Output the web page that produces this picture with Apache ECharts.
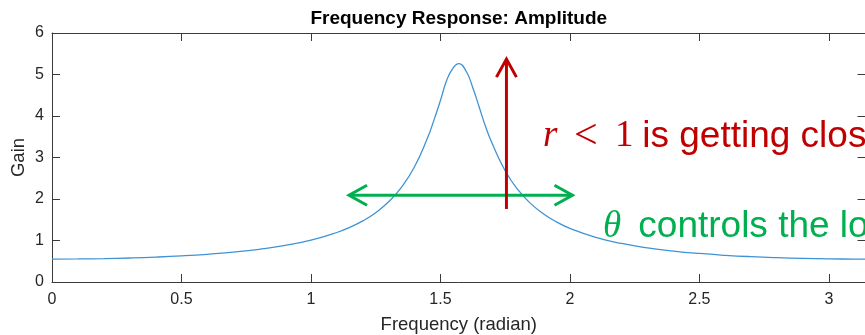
<!DOCTYPE html>
<html>
<head>
<meta charset="utf-8">
<script src="https://cdn.jsdelivr.net/npm/echarts@6/dist/echarts.min.js"></script>
<style>
  html, body { margin: 0; padding: 0; background: #ffffff; }
  #chart { width: 865px; height: 335px; }
</style>
</head>
<body>
<div id="chart"></div>
<script>
// Amplitude response samples (frequency in radians, gain)
const freq = [0, 0.1, 0.2, 0.3, 0.4, 0.5, 0.6, 0.7, 0.8, 0.9, 1.0, 1.1, 1.15, 1.2, 1.25, 1.3, 1.35, 1.4,
  1.45, 1.475, 1.5, 1.525, 1.55, 1.5708, 1.6, 1.625, 1.65, 1.675, 1.7, 1.75, 1.8, 1.85, 1.9, 1.95,
  2.0, 2.1, 2.2, 2.3, 2.4, 2.5, 2.6, 2.7, 2.8, 2.9, 3.0, 3.1, 3.1416];
const gain = [0.5525, 0.5552, 0.5636, 0.5780, 0.5992, 0.6285, 0.6677, 0.7195, 0.7884, 0.8811, 1.0092,
  1.1929, 1.3168, 1.4720, 1.6707, 1.9319, 2.2851, 2.7767, 3.4681, 3.8999, 4.3719, 4.8731, 5.1647,
  5.2632, 5.0720, 4.6824, 4.2114, 3.7348, 3.3356, 2.6819, 2.2176, 1.8825, 1.6336, 1.4432, 1.2940,
  1.0772, 0.9292, 0.8236, 0.7458, 0.6875, 0.6435, 0.6104, 0.5860, 0.5688, 0.5580, 0.5530, 0.5525];

// Tick labels
const xTickValues = [0, 0.5, 1, 1.5, 2, 2.5, 3];
const yTickValues = [0, 1, 2, 3, 4, 5, 6];

// Annotation arrows (data coordinates: [start, end])
const radiusArrow = [[1.755, 1.76], [1.755, 5.37]];
const angleArrow = [[1.147, 2.09], [2.010, 2.09]];

// Annotation text anchors (left edge, vertical middle)
const radiusNote = { pos: [1.896, 3.50], math: 'r', rel: '<', num: '1', text: ' is getting closer to 1' };
const angleNote = { pos: [2.128, 1.33], math: 'θ', text: ' controls the location of the peak' };

const SANS = '"Liberation Sans", Arial, Helvetica, sans-serif';
const SERIF = '"Liberation Serif", "DejaVu Serif", serif';
const AXIS = '#3a3a3a';
const RED = '#C00000';
const GREEN = '#00B050';
const NOTE_SIZE = 37;

function arrowSeries(pts, color, doubleHead) {
  return {
    type: 'custom',
    coordinateSystem: 'cartesian2d',
    silent: true,
    clip: false,
    z: 5,
    data: [[pts[0][0], pts[0][1], pts[1][0], pts[1][1]]],
    renderItem: function (params, api) {
      const a = api.coord([api.value(0), api.value(1)]);
      const b = api.coord([api.value(2), api.value(3)]);
      const head = function (tip, from) {
        const dx = tip[0] - from[0], dy = tip[1] - from[1];
        const L = Math.hypot(dx, dy), ux = dx / L, uy = dy / L;
        const len = 18, w = 10;
        return {
          type: 'polyline',
          shape: { points: [
            [tip[0] - ux * len - uy * w, tip[1] - uy * len + ux * w],
            [tip[0], tip[1]],
            [tip[0] - ux * len + uy * w, tip[1] - uy * len - ux * w]
          ] },
          style: { stroke: color, lineWidth: 3, fill: null }
        };
      };
      const children = [{
        type: 'line',
        shape: { x1: a[0], y1: a[1], x2: b[0], y2: b[1] },
        style: { stroke: color, lineWidth: 3 }
      }, head(b, a)];
      if (doubleHead) children.push(head(a, b));
      return { type: 'group', children: children };
    }
  };
}

function noteSeries(note, color) {
  return {
    type: 'custom',
    coordinateSystem: 'cartesian2d',
    silent: true,
    clip: false,
    z: 6,
    data: [note.pos],
    renderItem: function (params, api) {
      const p = api.coord([api.value(0), api.value(1)]);
      let txt;
      if (note.rel) {
        txt = '{m|' + note.math + '}{r|' + note.rel + '}{n|' + note.num + '}{t|' + note.text + '}';
      } else {
        txt = '{g|' + note.math + '}{t|' + note.text + '}';
      }
      return {
        type: 'text',
        x: p[0], y: p[1],
        style: {
          text: txt,
          align: 'left',
          verticalAlign: 'middle',
          fill: color,
          rich: {
            m: { fontFamily: SERIF, fontStyle: 'italic', fontSize: NOTE_SIZE, fill: color, width: 31 },
            g: { fontFamily: SERIF, fontStyle: 'italic', fontSize: NOTE_SIZE, fill: color, width: 25 },
            r: { fontFamily: SERIF, fontSize: 42, fill: color, width: 41 },
            n: { fontFamily: SERIF, fontSize: NOTE_SIZE, fill: color, width: 17 },
            t: { fontFamily: SANS, fontSize: NOTE_SIZE, fill: color }
          }
        }
      };
    }
  };
}

const chart = echarts.init(document.getElementById('chart'), null, { renderer: 'canvas' });

const xCommon = {
  type: 'value', min: 0, max: Math.PI, interval: 0.5,
  splitLine: { show: false },
  axisLine: { show: true, onZero: false, lineStyle: { color: AXIS, width: 1 } },
  axisTick: { show: true, inside: true, length: 8, lineStyle: { color: AXIS, width: 1 } }
};
const yCommon = {
  type: 'value', min: 0, max: 6, interval: 1,
  splitLine: { show: false },
  axisLine: { show: true, onZero: false, lineStyle: { color: AXIS, width: 1 } },
  axisTick: { show: true, inside: true, length: 8, lineStyle: { color: AXIS, width: 1 } }
};

chart.setOption({
  animation: false,
  backgroundColor: '#ffffff',
  grid: { left: 52, top: 33, width: 813.5, height: 249, containLabel: false, outerBoundsMode: 'none' },
  xAxis: [
    Object.assign({}, xCommon, {
      position: 'bottom',
      name: 'Frequency (radian)',
      nameLocation: 'middle',
      nameGap: 33,
      nameMoveOverlap: false,
      nameTextStyle: { fontFamily: SANS, fontSize: 18.5, color: '#262626' },
      axisLabel: {
        show: true, margin: 10, fontFamily: SANS, fontSize: 16, color: '#262626',
        showMaxLabel: false,
        formatter: function (v) {
          return xTickValues.some(function (t) { return Math.abs(t - v) < 1e-9; }) ? String(v) : '';
        }
      }
    }),
    Object.assign({}, xCommon, {
      position: 'top',
      name: 'Frequency Response: Amplitude',
      nameLocation: 'middle',
      nameGap: 5,
      nameTextStyle: { fontFamily: SANS, fontSize: 19, fontWeight: 'bold', color: '#000000' },
      axisLabel: { show: false }
    })
  ],
  yAxis: [
    Object.assign({}, yCommon, {
      position: 'left',
      name: 'Gain',
      nameLocation: 'middle',
      nameRotate: 90,
      nameGap: 24,
      nameMoveOverlap: false,
      nameTextStyle: { fontFamily: SANS, fontSize: 18.5, color: '#262626' },
      axisLabel: {
        show: true, margin: 8, fontFamily: SANS, fontSize: 16, color: '#262626',
        formatter: function (v) { return yTickValues.indexOf(v) >= 0 ? String(v) : ''; }
      }
    }),
    Object.assign({}, yCommon, {
      position: 'right',
      axisLabel: { show: false }
    })
  ],
  series: [
    {
      type: 'line',
      xAxisIndex: 0, yAxisIndex: 0,
      data: freq.map(function (f, i) { return [f, gain[i]]; }),
      smooth: true,
      showSymbol: false,
      lineStyle: { color: '#3f93d4', width: 1.3 },
      z: 3
    },
    arrowSeries(angleArrow, GREEN, true),
    arrowSeries(radiusArrow, RED, false),
    noteSeries(radiusNote, RED),
    noteSeries(angleNote, GREEN)
  ]
});
</script>
</body>
</html>
